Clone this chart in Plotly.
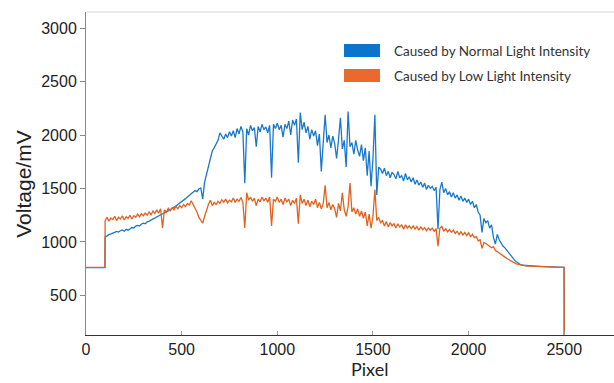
import plotly.graph_objects as go

# ---- data ----
lead_pixels = [0, 50, 99]
lead_normal = [760, 760, 760]
lead_low = [762, 762, 762]

# samples every 10 pixels starting at pixel 100
sample_start = 100
sample_step = 10
normal_vals = [
    1045, 1060, 1068, 1075, 1080, 1090, 1098, 1092, 1105, 1112,
    1100, 1118, 1110, 1125, 1135, 1130, 1148, 1155, 1150, 1168,
    1175, 1170, 1188, 1195, 1205, 1215, 1225, 1238, 1245, 1255,
    1262, 1270, 1282, 1290, 1300, 1312, 1322, 1335, 1350, 1362,
    1378, 1392, 1405, 1420, 1432, 1450, 1465, 1480, 1470, 1495,
    1505, 1400, 1560, 1640, 1720, 1800, 1850, 1880, 1920, 1950,
    2020, 1985, 1960, 2010, 1975, 2030, 1990, 2040, 1975, 2060,
    2010, 2080, 2030, 1550, 2060, 2000, 2090, 2040, 2070, 1890,
    2080, 2030, 2100, 2050, 2075, 2020, 2090, 1600, 2100, 2060,
    2110, 2050, 2090, 1980, 2100, 2060, 2130, 2000, 2140, 2090,
    2150, 1740, 2210, 2050, 2120, 2020, 2080, 1960, 2050, 1990,
    2040, 1900, 2010, 1660, 1980, 2190, 1930, 2000, 1880, 1990,
    1920, 1780, 1960, 2160, 1870, 1950, 1700, 2220, 1890, 1930,
    1820, 1950, 1860, 1800, 1910, 1760, 1880, 1620, 1850, 1520,
    1780, 2190, 1440, 1700, 1680, 1640, 1690, 1620, 1660, 1600,
    1650, 1630, 1590, 1660, 1600, 1620, 1570, 1640, 1580, 1610,
    1560, 1600, 1540, 1580, 1530, 1560, 1510, 1550, 1490, 1530,
    1500, 1520, 1480, 1510, 1120, 1490, 1560, 1460, 1500, 1440,
    1470, 1420, 1460, 1410, 1440, 1390, 1430, 1380, 1410, 1370,
    1400, 1350, 1380, 1320, 1350, 1280, 1250, 1090, 1220, 1180,
    1200, 1130, 1160, 1040, 980, 1070, 1020, 990, 960, 945,
    920, 895, 870, 850, 830, 815, 800, 790, 782, 780,
    778,
]
low_vals = [
    1200, 1230, 1195, 1225, 1210, 1240, 1200, 1230, 1215, 1245,
    1205, 1235, 1220, 1250, 1215, 1245, 1230, 1260, 1235, 1265,
    1245, 1270, 1250, 1280, 1255, 1290, 1265, 1300, 1270, 1310,
    1130, 1300, 1280, 1315, 1290, 1320, 1300, 1335, 1310, 1340,
    1320, 1350, 1330, 1360, 1345, 1385, 1350, 1320, 1280, 1230,
    1200, 1175, 1240, 1300, 1350, 1390, 1340, 1370, 1350, 1380,
    1360, 1395, 1370, 1400, 1365, 1390, 1375, 1410, 1370, 1400,
    1380, 1415, 1370, 1130, 1460, 1390, 1420, 1380, 1410, 1340,
    1400, 1375, 1420, 1385, 1410, 1370, 1420, 1150, 1400, 1380,
    1420, 1370, 1400, 1350, 1410, 1375, 1400, 1340, 1390, 1360,
    1410, 1170, 1440, 1360, 1400, 1340, 1390, 1330, 1380, 1350,
    1400, 1320, 1370, 1310, 1360, 1530, 1320, 1370, 1300, 1350,
    1310, 1230, 1360, 1290, 1460, 1300, 1240, 1330, 1550, 1280,
    1320, 1260, 1310, 1240, 1290, 1220, 1280, 1150, 1260, 1130,
    1240, 1490, 1200, 1230, 1180, 1200, 1150, 1190, 1140, 1180,
    1150, 1170, 1130, 1170, 1140, 1160, 1120, 1160, 1130, 1150,
    1125, 1150, 1120, 1145, 1110, 1140, 1115, 1135, 1105, 1130,
    1110, 1130, 1100, 1125, 960, 1130, 1145, 1100, 1125, 1095,
    1115, 1090, 1110, 1080, 1100, 1070, 1095, 1065, 1090, 1060,
    1085, 1050, 1070, 1040, 1050, 1010, 1020, 940, 995, 985,
    970, 960, 945, 955, 920, 910, 895, 885, 870, 858,
    845, 835, 822, 812, 802, 795, 790, 785, 780, 778,
    776,
]

tail_pixels = [2350, 2400, 2450, 2499, 2500]
tail_normal = [774, 770, 766, 762, 0]
tail_low = [772, 772, 765, 762, 0]

x_ticks = [0, 500, 1000, 1500, 2000, 2500]
y_ticks = [500, 1000, 1500, 2000, 2500, 3000]

name_normal = "Caused by Normal Light Intensity"
name_low = "Caused by Low Light Intensity"

blue = "#1a78cc"
orange = "#e2611f"
swatch_blue = "#0b74cc"
swatch_orange = "#ea6a2e"

# ---- build ----
def series(lead_y, vals, tail_y):
    xs = lead_pixels + [sample_start + sample_step * i for i in range(len(vals))] + tail_pixels
    ys = lead_y + vals + tail_y
    return xs, ys

xn, yn = series(lead_normal, normal_vals, tail_normal)
xl, yl = series(lead_low, low_vals, tail_low)

fig = go.Figure()
fig.add_trace(go.Scatter(x=xn, y=yn, mode="lines", line=dict(color=blue, width=1.3),
                         showlegend=False, name=name_normal))
fig.add_trace(go.Scatter(x=xl, y=yl, mode="lines", line=dict(color=orange, width=1.3),
                         showlegend=False, name=name_low))

# hand-drawn legend (swatch rectangles + labels) in paper coordinates
legend_rows = [(name_normal, swatch_blue, 0.9009, 0.8607, 0.8808),
               (name_low, swatch_orange, 0.8235, 0.7833, 0.8034)]
shapes = [dict(type="line", xref="paper", yref="paper", x0=0, x1=1, y0=1, y1=1,
               line=dict(color="#dfe6ec", width=1.5))]
annotations = []
for label, col, ytop, ybot, ymid in legend_rows:
    shapes.append(dict(type="rect", xref="paper", yref="paper", x0=0.4886, x1=0.5568,
                       y0=ybot, y1=ytop, fillcolor=col, line=dict(width=0)))
    annotations.append(dict(text=label, xref="paper", yref="paper", x=0.5795, y=ymid,
                            xanchor="left", yanchor="middle", showarrow=False,
                            font=dict(family="Lato, Open Sans, sans-serif", size=13.5, color="#333")))

annotations += [
    dict(text="Pixel", x=1480, xref="x", y=-0.147, yref="paper", showarrow=False,
         yanchor="bottom",
         font=dict(family="Lato, Open Sans, sans-serif", size=18, color="#222")),
    dict(text="Voltage/mV", x=-0.12, xref="paper", y=1541, yref="y", showarrow=False,
         textangle=-90, xanchor="center", font=dict(size=21, color="#222")),
]

fig.update_layout(
    width=614, height=383,
    margin=dict(l=86, r=0, t=12, b=48),
    paper_bgcolor="white", plot_bgcolor="white",
    showlegend=False,
    font=dict(family="Liberation Sans, Arial, sans-serif", size=16, color="#222"),
    xaxis=dict(range=[0, 2760], tickvals=x_ticks, ticks="inside", ticklen=4,
               tickcolor="#999", showline=True, linecolor="#333", linewidth=1.2,
               showgrid=False, zeroline=False, tickfont=dict(size=16)),
    yaxis=dict(range=[130, 3150], tickvals=y_ticks, ticks="outside", ticklen=5,
               tickcolor="#888", showline=True, linecolor="#888", linewidth=1,
               showgrid=False, zeroline=False, tickfont=dict(size=16)),
    shapes=shapes,
    annotations=annotations,
)

fig.write_html("out.html", config={"displayModeBar": False},
               post_script="document.body.style.margin='0';")
